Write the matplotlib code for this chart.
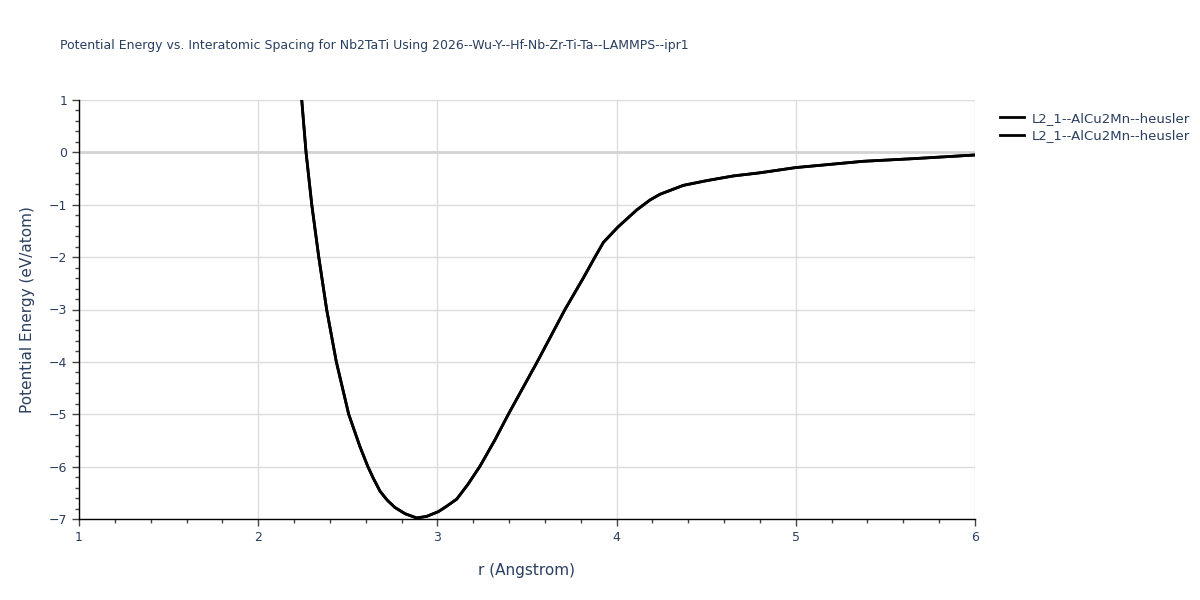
import matplotlib.pyplot as plt
from matplotlib.ticker import MultipleLocator

# values
r_values = [2.243, 2.267, 2.299, 2.338, 2.382, 2.436, 2.505, 2.568, 2.612, 2.642,
            2.680, 2.720, 2.763, 2.820, 2.884, 2.940, 3.005, 3.050, 3.108, 3.170,
            3.238, 3.321, 3.396, 3.557, 3.712, 3.814, 3.879, 3.926, 4.006, 4.112,
            4.186, 4.242, 4.372, 4.502, 4.651, 4.800, 5.000, 5.377, 5.656, 6.000]
energy_values = [1.0, 0.0, -1.0, -2.0, -3.0, -4.0, -5.0, -5.62, -6.0, -6.22,
                 -6.47, -6.64, -6.78, -6.90, -6.98, -6.95, -6.86, -6.76, -6.62, -6.34,
                 -5.99, -5.49, -5.0, -4.0, -3.0, -2.40, -2.0, -1.72, -1.43, -1.10,
                 -0.91, -0.80, -0.63, -0.54, -0.45, -0.39, -0.29, -0.17, -0.12, -0.05]
series_names = ['L2_1--AlCu2Mn--heusler', 'L2_1--AlCu2Mn--heusler']

title = 'Potential Energy vs. Interatomic Spacing for Nb2TaTi Using 2026--Wu-Y--Hf-Nb-Zr-Ti-Ta--LAMMPS--ipr1'
text_color = '#2a3f5f'

fig = plt.figure(figsize=(12, 6), dpi=100)
ax = fig.add_axes([79 / 1200, 81 / 600, 896 / 1200, 419 / 600])

for name in series_names:
    ax.plot(r_values, energy_values, color='black', linewidth=2, label=name, zorder=3)

ax.set_xlim(1, 6)
ax.set_ylim(-7, 1)
ax.xaxis.set_major_locator(MultipleLocator(1))
ax.xaxis.set_minor_locator(MultipleLocator(0.2))
ax.yaxis.set_major_locator(MultipleLocator(1))
ax.yaxis.set_minor_locator(MultipleLocator(0.2))

ax.grid(True, which='major', color='#dcdcdc', linewidth=1)
ax.axhline(0, color='#d4d4d4', linewidth=2, zorder=1)
ax.set_axisbelow(True)

for side in ['top', 'right']:
    ax.spines[side].set_visible(False)
for side in ['left', 'bottom']:
    ax.spines[side].set_color('black')
    ax.spines[side].set_linewidth(1)

ax.tick_params(which='major', direction='out', length=5, width=1, color='#444444',
               labelsize=9, labelcolor=text_color)
ax.tick_params(which='minor', direction='out', length=3, width=1, color='#444444')
ax.set_yticks(range(-7, 2))
ax.set_yticklabels(['\u22127', '\u22126', '\u22125', '\u22124', '\u22123', '\u22122', '\u22121', '0', '1'])

ax.set_xlabel('r (Angstrom)', fontsize=11, color=text_color, labelpad=14)
ax.set_ylabel('Potential Energy (eV/atom)', fontsize=11, color=text_color, labelpad=10)

fig.text(60 / 1200, 1 - 45 / 600, title, fontsize=9, color=text_color, va='center', ha='left')

ax.legend(loc='upper left', bbox_to_anchor=(1.015, 1.0), frameon=False, fontsize=9.5,
          labelcolor=text_color, handlelength=1.8, handletextpad=0.6, labelspacing=0.35)

fig.savefig('out.png', dpi=100)
